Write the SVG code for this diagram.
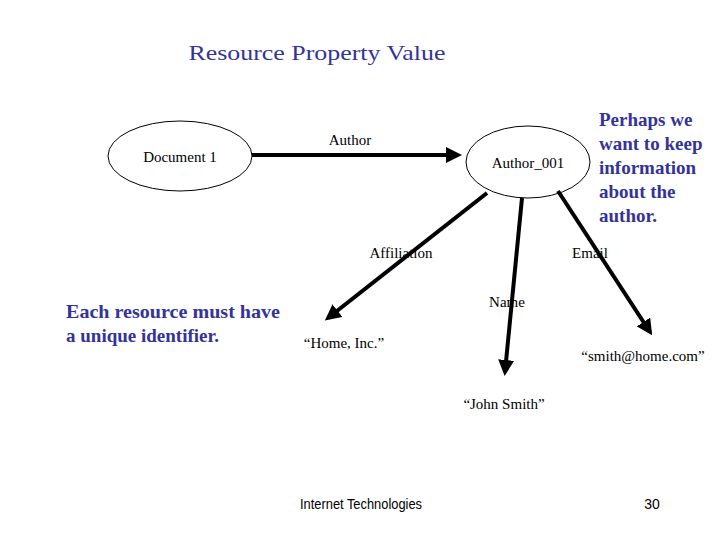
<svg xmlns="http://www.w3.org/2000/svg" width="720" height="540" viewBox="0 0 720 540">
<style>
.t{font-family:"Liberation Serif",serif;fill:#000;font-size:15px}
.blue{fill:#333399;font-weight:bold;font-family:"Liberation Serif",serif;font-size:19px}
.node{fill:#fff;stroke:#000;stroke-width:1}
.edge{stroke:#000;stroke-width:4;fill:none;marker-end:url(#ah)}
</style>
<defs><marker id="ah" markerWidth="4" markerHeight="4" refX="3" refY="2" orient="auto" markerUnits="strokeWidth"><path d="M0,0 L4,2 L0,4 Z" fill="#000"/></marker></defs>
<rect width="720" height="540" fill="#fff"/>
<text x="317" y="60" font-size="22" fill="#333399" font-family="Liberation Serif,serif" text-anchor="middle" textLength="257" lengthAdjust="spacingAndGlyphs">Resource Property Value</text>
<g id="doc1"><ellipse class="node" cx="180" cy="156" rx="72" ry="35"/><text class="t" x="180" y="162" text-anchor="middle">Document 1</text></g>
<g id="author001"><ellipse class="node" cx="528" cy="162" rx="62" ry="36"/><text class="t" x="528" y="168" text-anchor="middle">Author_001</text></g>
<g id="connectors">
<line class="edge" x1="252" y1="155" x2="458" y2="155"/>
<line class="edge" x1="487" y1="193" x2="328" y2="318"/>
<line class="edge" x1="522" y1="198" x2="505" y2="372"/>
<line class="edge" x1="558" y1="191" x2="650" y2="332"/>
</g>
<text class="t" x="350" y="145" text-anchor="middle">Author</text>
<text class="t" x="401" y="258" text-anchor="middle">Affiliation</text>
<text class="t" x="590" y="258" text-anchor="middle">Email</text>
<text class="t" x="507" y="307" text-anchor="middle">Name</text>
<g id="home"><text class="t" x="344" y="348" text-anchor="middle">“Home, Inc.”</text></g>
<g id="smith"><text class="t" x="643" y="361" text-anchor="middle">“smith@home.com”</text></g>
<g id="john"><text class="t" x="504" y="409" text-anchor="middle">“John Smith”</text></g>
<text class="blue"><tspan x="66" y="318" textLength="214" lengthAdjust="spacingAndGlyphs">Each resource must have</tspan><tspan x="66" y="342">a unique identifier.</tspan></text>
<text class="blue"><tspan x="599" y="126">Perhaps we</tspan><tspan x="599" y="150">want to keep</tspan><tspan x="599" y="174">information</tspan><tspan x="599" y="198">about the</tspan><tspan x="599" y="222">author.</tspan></text>
<text x="300" y="509" font-size="14" font-family="Liberation Sans,sans-serif" textLength="122" lengthAdjust="spacingAndGlyphs">Internet Technologies</text>
<text x="652" y="509" font-size="14" text-anchor="middle" font-family="Liberation Sans,sans-serif">30</text>
</svg>
